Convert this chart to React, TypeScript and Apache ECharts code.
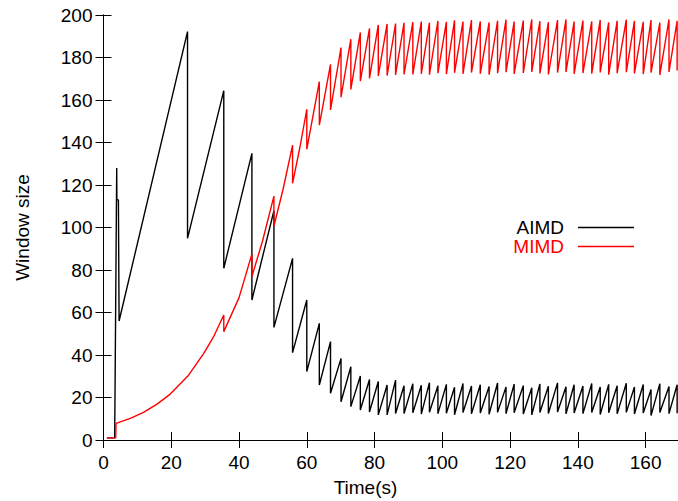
import React, { useEffect, useRef } from "react";
import * as echarts from "echarts";

// Lead-in parts of each trace (time s, window size)
const aimdLead: [number, number][] = [
  [1.0, 1], [3.3, 1], [3.9, 128], [3.95, 113], [4.4, 113], [4.6, 56],
  [24.8, 192.2], [24.8, 94.9],
];
const mimdLead: [number, number][] = [
  [1.0, 1], [3.6, 1], [3.7, 7.8], [7.9, 10.2], [11.8, 13.0], [15.8, 16.9],
  [19.7, 21.6], [24.9, 30.1], [29.6, 40.8], [32.5, 48.6],
];

// Shared loss (drop) instants
const dropTimes = [
  35.5, 43.8, 50.3, 55.8, 60.0, 63.7, 67.0, 70.1, 73.0, 75.8, 78.5, 81.1, 83.7, 86.2, 88.7,
  91.3, 93.8, 96.2, 98.7, 101.2, 103.6, 106.1, 108.6, 111.2, 113.8, 116.3, 118.8, 121.2,
  123.9, 126.4, 128.8, 131.3, 134.0, 136.5, 138.9, 141.5, 144.1, 146.6, 149.1, 151.6,
  154.3, 156.7, 159.3, 161.6, 164.2, 166.9, 169.3,
];

const aimdPeaks = [
  164.4, 134.9, 107.9, 85.5, 65.9, 54.9, 46.3, 38.4, 34.5, 30.1, 28.5, 27.5, 25.9, 28.2, 25.5,
  26.5, 25.8, 27.0, 25.5, 26.2, 24.8, 26.6, 25.4, 26.0, 25.2, 26.8, 25.0, 26.3, 25.6, 24.6,
  26.4, 25.3, 26.9, 25.1, 26.0, 25.4, 26.6, 24.9, 26.2, 25.5, 26.7, 25.0, 26.1, 23.8, 26.5,
  25.2, 26.0,
];
const aimdTroughs = [
  80.8, 65.9, 53.0, 41.1, 32.2, 25.9, 22.0, 18.0, 15.7, 14.1, 13.2, 11.8, 11.8, 12.5, 12.5,
  12.8, 12.2, 13.1, 12.4, 12.6, 11.9, 12.9, 12.3, 12.7, 12.1, 13.0, 12.4, 12.8, 12.2, 11.8,
  12.9, 12.5, 13.2, 12.3, 12.7, 12.4, 12.9, 12.0, 12.8, 12.3, 13.0, 12.2, 12.7, 11.5, 12.9,
  12.4, 12.6,
];

const mimdPeaks = [
  58.8, 87.5, 114.8, 138.8, 155.6, 168.6, 176.8, 184.7, 188.6, 191.8, 193.7, 195.3, 195.8,
  196.0, 196.3, 196.6, 196.9, 196.4, 197.2, 196.8, 197.5, 196.9, 197.6, 197.0, 196.5, 197.3,
  197.8, 196.9, 197.4, 197.9, 197.1, 196.6, 197.6, 197.9, 196.9, 197.4, 197.0, 197.7, 196.5,
  197.3, 197.8, 197.2, 196.8, 197.6, 196.4, 197.9, 197.2,
];
const mimdTroughs = [
  51.0, 76.9, 100.7, 120.8, 136.8, 148.2, 155.3, 161.3, 165.0, 168.9, 170.2, 171.3, 171.5,
  171.8, 172.0, 172.0, 172.3, 171.9, 172.6, 172.2, 172.8, 172.3, 172.9, 172.4, 171.9, 172.6,
  173.1, 172.3, 172.7, 173.2, 172.5, 172.0, 172.9, 173.2, 172.3, 172.7, 172.4, 173.0, 171.9,
  172.6, 173.1, 172.5, 172.2, 172.9, 171.8, 173.2, 173.9,
];
// Visible curvature inside the first MIMD growth segments
const mimdBendT = [40.0, 47.0, 53.0, 58.0];
const mimdBendW = [67.0, 94.0, 118.0, 138.0];

const xTicks = { min: 0, max: 170, interval: 20 };
const yTicks = { min: 0, max: 200, interval: 20 };

function buildAimd(): [number, number][] {
  const out: [number, number][] = [...aimdLead];
  dropTimes.forEach((t, i) => {
    out.push([t, aimdPeaks[i]]);
    out.push([t, aimdTroughs[i]]);
  });
  return out;
}
function buildMimd(): [number, number][] {
  const out: [number, number][] = [...mimdLead];
  dropTimes.forEach((t, i) => {
    out.push([t, mimdPeaks[i]]);
    out.push([t, mimdTroughs[i]]);
    if (i < mimdBendT.length) out.push([mimdBendT[i], mimdBendW[i]]);
  });
  return out;
}

const FONT = "'Liberation Sans', Arial, Helvetica, sans-serif";
const FS = 19;

export default function App() {
  const ref = useRef<HTMLDivElement>(null);
  useEffect(() => {
    if (!ref.current) return;
    const chart = echarts.init(ref.current, undefined, { renderer: "svg" });
    const axisLine = { show: true, lineStyle: { color: "#000", width: 1 } };
    const tick = { show: true, inside: true, length: 8, lineStyle: { color: "#000", width: 1 } };
    chart.setOption({
      animation: false,
      backgroundColor: "#fff",
      textStyle: { fontFamily: FONT },
      grid: {
        left: 103.5,
        top: 15,
        width: 576,
        height: 425,
        containLabel: false,
        outerBoundsMode: "none",
      },
      legend: {
        orient: "vertical",
        right: 39,
        top: 213,
        align: "right",
        icon: "rect",
        itemWidth: 56,
        itemHeight: 1.3,
        itemGap: 0,
        selectedMode: false,
        textStyle: { fontSize: FS, fontFamily: FONT, lineHeight: 19, padding: [0, 9, 0, 0] },
        data: [
          { name: "AIMD", textStyle: { color: "#000" } },
          { name: "MIMD", textStyle: { color: "#ff0000" } },
        ],
      },
      xAxis: [
        {
          type: "value",
          position: "bottom",
          ...xTicks,
          axisLine,
          axisTick: tick,
          splitLine: { show: false },
          axisLabel: {
            color: "#000",
            fontSize: FS,
            fontFamily: FONT,
            margin: 13,
            formatter: (v: number) => (v % 20 === 0 ? String(v) : ""),
          },
          name: "Time(s)",
          nameLocation: "middle",
          nameGap: 38,
          nameTextStyle: {
            color: "#000",
            fontSize: FS,
            fontFamily: FONT,
            padding: [0, 52, 0, 0],
          },
        },
        {
          type: "value",
          position: "top",
          ...xTicks,
          axisLine,
          axisTick: tick,
          splitLine: { show: false },
          axisLabel: { show: false },
        },
      ],
      yAxis: [
        {
          type: "value",
          position: "left",
          ...yTicks,
          axisLine,
          axisTick: tick,
          splitLine: { show: false },
          axisLabel: { color: "#000", fontSize: FS, fontFamily: FONT, margin: 11 },
          name: "Window size",
          nameLocation: "middle",
          nameRotate: 90,
          nameGap: 72,
          nameTextStyle: { color: "#000", fontSize: FS, fontFamily: FONT },
        },
        {
          type: "value",
          position: "right",
          ...yTicks,
          axisLine,
          axisTick: tick,
          splitLine: { show: false },
          axisLabel: { show: false },
        },
      ],
      series: [
        {
          name: "AIMD",
          type: "line",
          data: buildAimd(),
          showSymbol: false,
          symbol: "none",
          lineStyle: { color: "#000", width: 1.4 },
          itemStyle: { color: "#000" },
          xAxisIndex: 0,
          yAxisIndex: 0,
        },
        {
          name: "MIMD",
          type: "line",
          data: buildMimd(),
          showSymbol: false,
          symbol: "none",
          lineStyle: { color: "#ff0000", width: 1.4 },
          itemStyle: { color: "#ff0000" },
          xAxisIndex: 0,
          yAxisIndex: 0,
        },
      ],
    });
    return () => chart.dispose();
  }, []);
  return (
    <div
      ref={ref}
      style={{ position: "fixed", left: 0, top: 0, width: 678, height: 501, background: "#fff" }}
    />
  );
}
